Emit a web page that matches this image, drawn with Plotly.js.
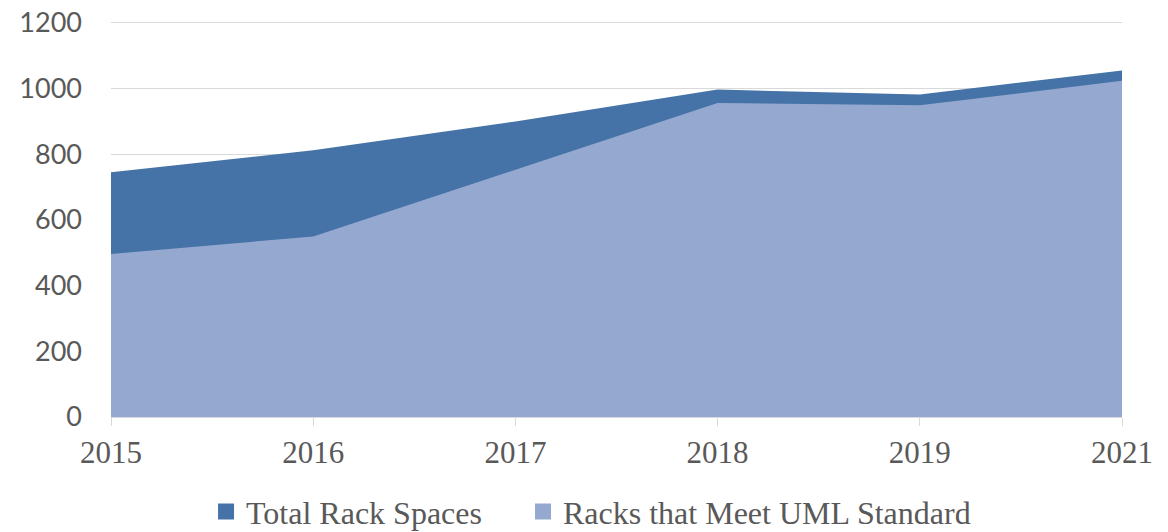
<!DOCTYPE html>
<html>
<head>
<meta charset="utf-8">
<script src="https://cdn.plot.ly/plotly-3.0.1.min.js"></script>
<style>html,body{margin:0;padding:0;background:#fff;}#chart{width:1168px;height:532px;}</style>
</head>
<body>
<div id="chart"></div>
<script>
const years = ["2015", "2016", "2017", "2018", "2019", "2021"];
const totalRackSpaces = [745, 812, 900, 997, 982, 1055];
const racksMeetingUML = [496, 550, 753, 956, 949, 1024];
const yTicks = [0, 200, 400, 600, 800, 1000, 1200];
const seriesNames = ["Total Rack Spaces", "Racks that Meet UML Standard"];
const seriesColors = ["#4673a7", "#95a9d0"];

const traces = [
  {
    x: years, y: totalRackSpaces, name: seriesNames[0],
    type: "scatter", mode: "none", fill: "tozeroy",
    fillcolor: seriesColors[0], showlegend: false, hoverinfo: "skip"
  },
  {
    x: years, y: racksMeetingUML, name: seriesNames[1],
    type: "scatter", mode: "none", fill: "tozeroy",
    fillcolor: seriesColors[1], showlegend: false, hoverinfo: "skip"
  },
  // legend-only square keys (no plotted points)
  {
    x: [null], y: [null], name: seriesNames[0], type: "scatter", mode: "markers",
    marker: {symbol: "square", size: 18, color: seriesColors[0]}, showlegend: true,
    legend: "legend"
  },
  {
    x: [null], y: [null], name: seriesNames[1], type: "scatter", mode: "markers",
    marker: {symbol: "square", size: 18, color: seriesColors[1]}, showlegend: true,
    legend: "legend2"
  }
];

const legendFont = {family: "'Liberation Serif', 'Times New Roman', serif", size: 32, color: "#595959"};

const layout = {
  width: 1168, height: 532,
  margin: {l: 111, r: 46, t: 18.4, b: 115},
  paper_bgcolor: "#ffffff", plot_bgcolor: "#ffffff",
  font: {family: "'Liberation Serif', 'Times New Roman', serif", color: "#595959"},
  showlegend: true,
  legend: {
    orientation: "h", xref: "container", x: 0.1764, xanchor: "left",
    yref: "container", y: 0.038, yanchor: "middle",
    font: legendFont, itemwidth: 30
  },
  legend2: {
    orientation: "h", xref: "container", x: 0.4478, xanchor: "left",
    yref: "container", y: 0.038, yanchor: "middle",
    font: legendFont, itemwidth: 30
  },
  xaxis: {
    type: "category", range: [0, 5],
    showgrid: false, showline: true, linecolor: "#d9d9d9", linewidth: 1,
    ticks: "outside", ticklen: 8, tickcolor: "#d9d9d9", tickwidth: 1,
    tickfont: {family: "'Liberation Serif', 'Times New Roman', serif", size: 31, color: "#595959"},
    fixedrange: true
  },
  yaxis: {
    range: [0, 1215], tickvals: yTicks, ticktext: yTicks.map(String),
    showgrid: true, gridcolor: "#d9d9d9", gridwidth: 1,
    zeroline: false, showline: false, ticks: "",
    ticklabelstandoff: 28,
    tickfont: {family: "Lato, sans-serif", size: 27, color: "#595959"},
    fixedrange: true
  }
};

Plotly.newPlot("chart", traces, layout, {displayModeBar: false, staticPlot: true});
</script>
</body>
</html>
